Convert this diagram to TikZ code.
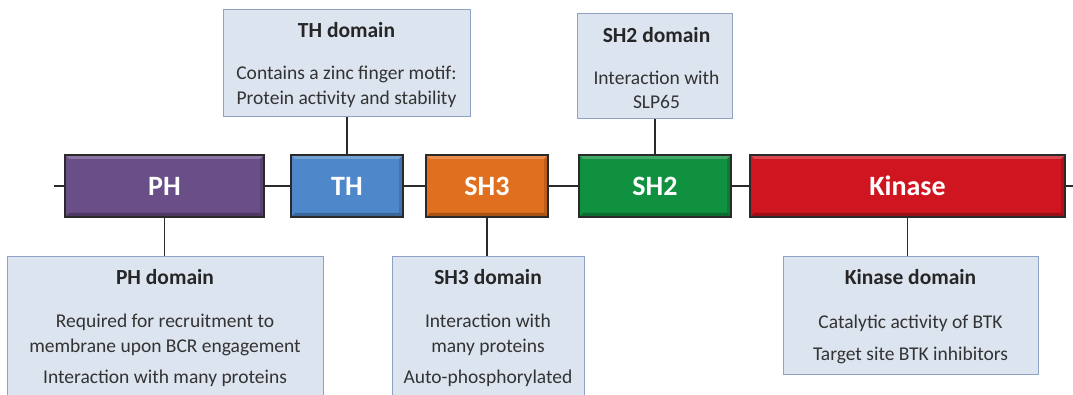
\documentclass[tikz,border=0pt]{standalone}
\usepackage{fontspec}
\setmainfont{Carlito}
\definecolor{infofill}{HTML}{DCE4EF}
\definecolor{infodraw}{HTML}{8DA2C4}
\definecolor{phcol}{HTML}{6A4E88}
\definecolor{thcol}{HTML}{4E88CA}
\definecolor{shthreecol}{HTML}{E0701F}
\definecolor{shtwocol}{HTML}{0F9140}
\definecolor{kincol}{HTML}{CF1520}
\definecolor{edge}{HTML}{2A2A2A}
\tikzset{
  bar/.style={draw=edge, line width=1.3pt, fill=#1, minimum height=62pt, inner sep=0pt,
    text=white, font=\bfseries\fontsize{28}{30}\selectfont,
    path picture={
      \fill[white, opacity=0.22] (path picture bounding box.north west) -- (path picture bounding box.north east)
        -- ([xshift=-4pt,yshift=-4pt]path picture bounding box.north east) -- ([xshift=4pt,yshift=-4pt]path picture bounding box.north west) -- cycle;
      \fill[black, opacity=0.25] (path picture bounding box.south west) -- (path picture bounding box.south east)
        -- ([xshift=-4pt,yshift=4pt]path picture bounding box.south east) -- ([xshift=4pt,yshift=4pt]path picture bounding box.south west) -- cycle;
      \fill[black, opacity=0.15] (path picture bounding box.south east) -- (path picture bounding box.north east)
        -- ([xshift=-4pt,yshift=-4pt]path picture bounding box.north east) -- ([xshift=-4pt,yshift=4pt]path picture bounding box.south east) -- cycle;
    }},
  info/.style={draw=infodraw, line width=1pt, fill=infofill, inner sep=0pt},
  ttl/.style={font=\bfseries\fontsize{21.5}{24}\selectfont, text=black!85},
  body/.style={font=\fontsize{19.5}{24.5}\selectfont, text=black!80, align=center, inner sep=0pt},
  conn/.style={draw=edge, line width=1.3pt},
}
\begin{document}
\begin{tikzpicture}[x=1pt,y=-1pt]
\useasboundingbox[fill=white] (0,0) rectangle (1073,395);
% backbone ends
\coordinate (L) at (54,186);
\coordinate (R) at (1073,186);
% domain bars
\node[bar=phcol, minimum width=199pt] (ph) at (164.5,186) {PH};
\node[bar=thcol, minimum width=112pt] (th) at (347,186) {TH};
\node[bar=shthreecol, minimum width=122pt] (sh3) at (487,186) {SH3};
\node[bar=shtwocol, minimum width=152pt] (sh2) at (655,186) {SH2};
\node[bar=kincol, minimum width=315pt] (kin) at (907.5,186) {Kinase};
\draw[conn] (L) -- (ph.west);
\draw[conn] (ph.east) -- (th.west);
\draw[conn] (th.east) -- (sh3.west);
\draw[conn] (sh3.east) -- (sh2.west);
\draw[conn] (sh2.east) -- (kin.west);
\draw[conn] (kin.east) -- (R);
% info boxes
\node[info, minimum width=247pt, minimum height=107pt] (thi) at (347,63.5) {};
\node[info, minimum width=155pt, minimum height=105pt] (sh2i) at (655,66.5) {};
\node[info, minimum width=316pt, minimum height=150pt] (phi) at (165,332) {};
\node[info, minimum width=192pt, minimum height=150pt] (sh3i) at (488,332) {};
\node[info, minimum width=255pt, minimum height=117pt] (kini) at (910.5,315.5) {};
\draw[conn] (th.north) -- (th.north |- thi.south);
\draw[conn] (sh2.north) -- (sh2.north |- sh2i.south);
\draw[conn] (ph.south) -- (ph.south |- phi.north);
\draw[conn] (sh3.south) -- (sh3.south |- sh3i.north);
\draw[conn] (kin.south) -- (kin.south |- kini.north);
% texts
\node[ttl] (tht) at (346.5,30) {TH domain};
\node[body] (thb) at (346.5,87) {Contains a zinc finger motif:\\Protein activity and stability};
\node[ttl] (sh2t) at (656.5,35) {SH2 domain};
\node[body] (sh2b) at (656.5,90) {Interaction with\\SLP65};
\node[ttl] (pht) at (165,277) {PH domain};
\node[body] (phb) at (165,335) {Required for recruitment to\\membrane upon BCR engagement};
\node[body] (phc) at (165,378) {Interaction with many proteins};
\node[ttl] (sh3t) at (488,277) {SH3 domain};
\node[body] (sh3b) at (488,335) {Interaction with\\many proteins};
\node[body] (sh3c) at (488,378) {Auto-phosphorylated};
\node[ttl] (kint) at (910.5,277) {Kinase domain};
\node[body] (kinb) at (910.5,323) {Catalytic activity of BTK};
\node[body] (kinc) at (910.5,355) {Target site BTK inhibitors};
\end{tikzpicture}
\end{document}
